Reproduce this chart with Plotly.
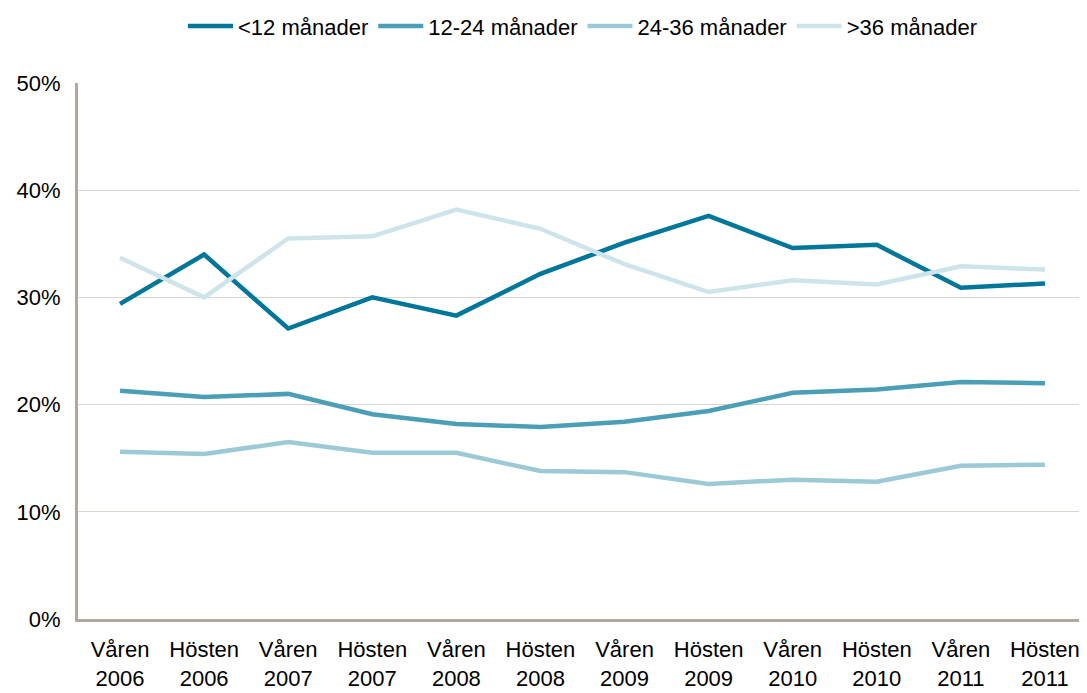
import plotly.graph_objects as go

categories = ["Våren<br>2006", "Hösten<br>2006", "Våren<br>2007", "Hösten<br>2007",
              "Våren<br>2008", "Hösten<br>2008", "Våren<br>2009", "Hösten<br>2009",
              "Våren<br>2010", "Hösten<br>2010", "Våren<br>2011", "Hösten<br>2011"]

under_12 = [0.294, 0.340, 0.271, 0.300, 0.283, 0.322, 0.351, 0.376, 0.346, 0.349, 0.309, 0.313]
m12_24 = [0.213, 0.207, 0.210, 0.191, 0.182, 0.179, 0.184, 0.194, 0.211, 0.214, 0.221, 0.220]
m24_36 = [0.156, 0.154, 0.165, 0.155, 0.155, 0.138, 0.137, 0.126, 0.130, 0.128, 0.143, 0.144]
over_36 = [0.337, 0.300, 0.355, 0.357, 0.382, 0.364, 0.331, 0.305, 0.316, 0.312, 0.329, 0.326]

series_names = ["<12 månader", "12-24 månader", "24-36 månader", ">36 månader"]
series_values = [under_12, m12_24, m24_36, over_36]
colors = ["#00779A", "#4A9FB7", "#9CC9D6", "#CDE4EB"]

fig = go.Figure()
for name, vals, col in zip(series_names, series_values, colors):
    fig.add_trace(go.Scatter(x=categories, y=vals, name=name, mode="lines",
                             line=dict(color=col, width=4.5)))

FS = 22
fig.update_layout(
    width=1079, height=685,
    paper_bgcolor="white", plot_bgcolor="white",
    margin=dict(l=70, r=0, t=75, b=74, autoexpand=False),
    font=dict(family="Liberation Sans, Arial, sans-serif", size=FS, color="#000000"),
    showlegend=True,
    legend=dict(orientation="h", x=0.5, xanchor="center", y=1.106, yanchor="middle",
                font=dict(size=FS), itemwidth=45, tracegroupgap=0),
    xaxis=dict(type="category", range=[-0.5, 11.5], showgrid=False,
               showline=True, linecolor="#B2A99C", linewidth=3,
               ticks="", ticklabelstandoff=9, tickfont=dict(size=FS), automargin=False),
    yaxis=dict(range=[0, 0.5], tickvals=[0, 0.1, 0.2, 0.3, 0.4, 0.5], tickformat=".0%",
               showgrid=True, gridcolor="#D9D6D0", gridwidth=1,
               showline=True, linecolor="#B2A99C", linewidth=3,
               ticks="", ticklabelstandoff=10, tickfont=dict(size=FS), zeroline=False,
               automargin=False),
)

fig.write_html("out.html")
